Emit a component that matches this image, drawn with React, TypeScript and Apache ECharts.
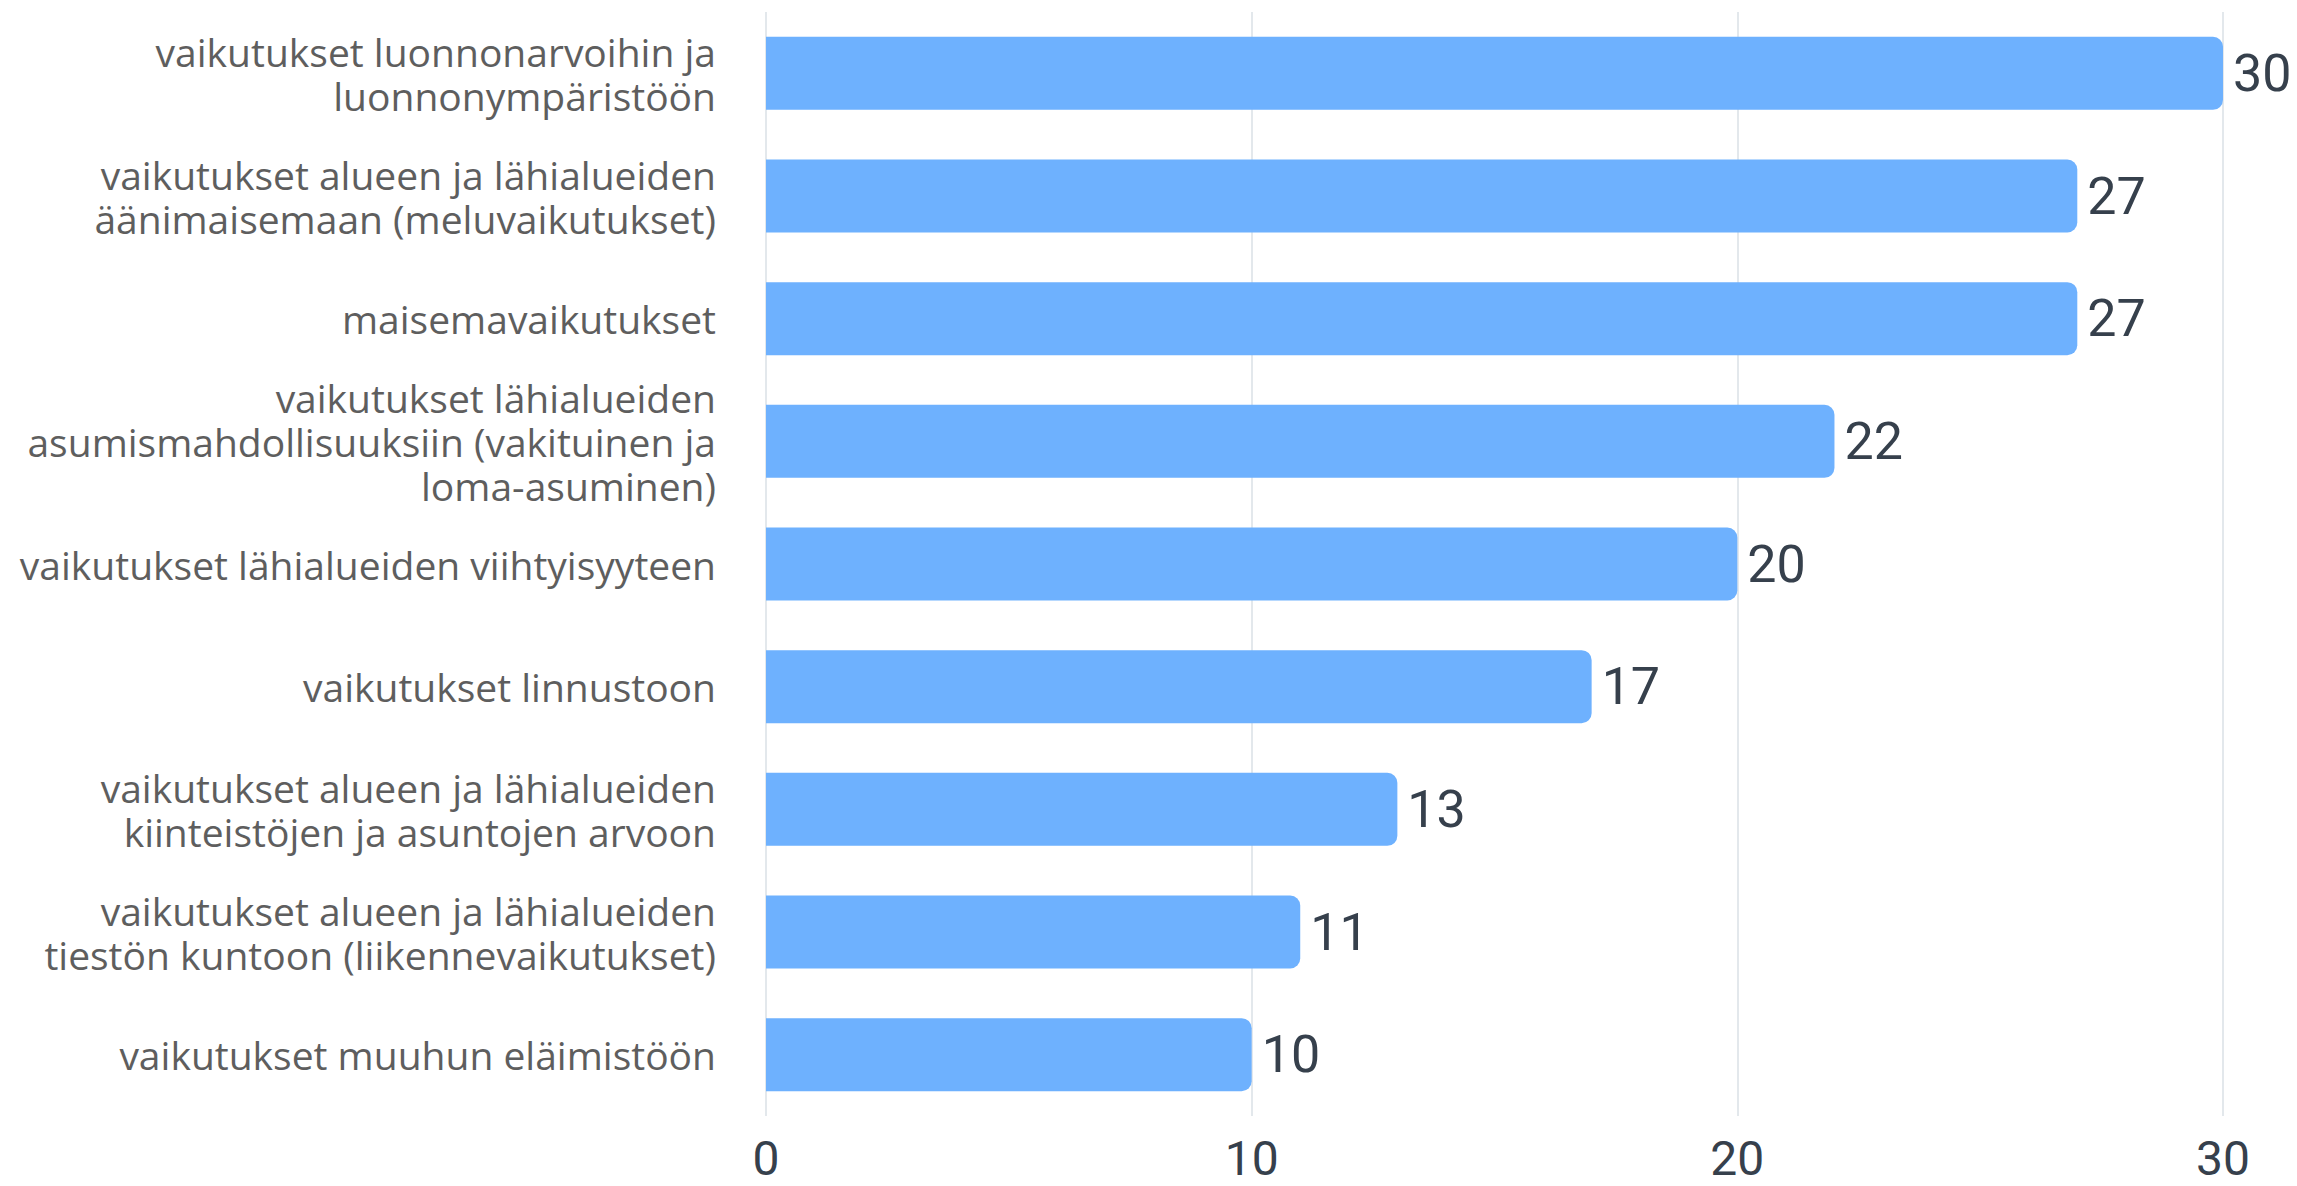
import React, { useEffect, useRef } from "react";
import * as echarts from "echarts";

const categories: string[] = [
  "vaikutukset luonnonarvoihin ja\nluonnonympäristöön",
  "vaikutukset alueen ja lähialueiden\näänimaisemaan (meluvaikutukset)",
  "maisemavaikutukset",
  "vaikutukset lähialueiden\nasumismahdollisuuksiin (vakituinen ja\nloma-asuminen)",
  "vaikutukset lähialueiden viihtyisyyteen",
  "vaikutukset linnustoon",
  "vaikutukset alueen ja lähialueiden\nkiinteistöjen ja asuntojen arvoon",
  "vaikutukset alueen ja lähialueiden\ntiestön kuntoon (liikennevaikutukset)",
  "vaikutukset muuhun eläimistöön",
];

const values: number[] = [30, 27, 27, 22, 20, 17, 13, 11, 10];

const xTicks: number[] = [0, 10, 20, 30];

export default function App() {
  const ref = useRef<HTMLDivElement>(null);

  useEffect(() => {
    if (!ref.current) return;
    const chart = echarts.init(ref.current, undefined, { renderer: "svg" });
    chart.setOption({
      animation: false,
      grid: { left: 766, right: 74, top: 12, bottom: 70, containLabel: false },
      xAxis: {
        type: "value",
        min: xTicks[0],
        max: xTicks[xTicks.length - 1],
        interval: 10,
        axisLine: { show: false },
        axisTick: { show: false },
        splitLine: { show: true, lineStyle: { color: "#e3e8ec", width: 2 } },
        axisLabel: {
          margin: 18,
          fontFamily: "Roboto",
          fontSize: 48,
          lineHeight: 48,
          color: "#36404c",
        },
      },
      yAxis: {
        type: "category",
        data: categories,
        inverse: true,
        axisLine: { show: false },
        axisTick: { show: false },
        axisLabel: {
          margin: 50,
          fontFamily: "Open Sans",
          fontSize: 39,
          lineHeight: 44,
          color: "#5e5e5e",
          align: "right",
        },
      },
      series: [
        {
          type: "bar",
          data: values,
          barWidth: 73,
          itemStyle: {
            color: "#6eb1fe",
            borderRadius: [0, 10, 10, 0],
          },
          label: {
            show: true,
            position: "right",
            distance: 10,
            fontFamily: "Roboto",
            fontSize: 52,
            color: "#36404c",
          },
        },
      ],
    });
    return () => chart.dispose();
  }, []);

  return (
    <div
      ref={ref}
      style={{ position: "fixed", left: 0, top: 0, width: 2297, height: 1186, background: "#fff" }}
    />
  );
}
